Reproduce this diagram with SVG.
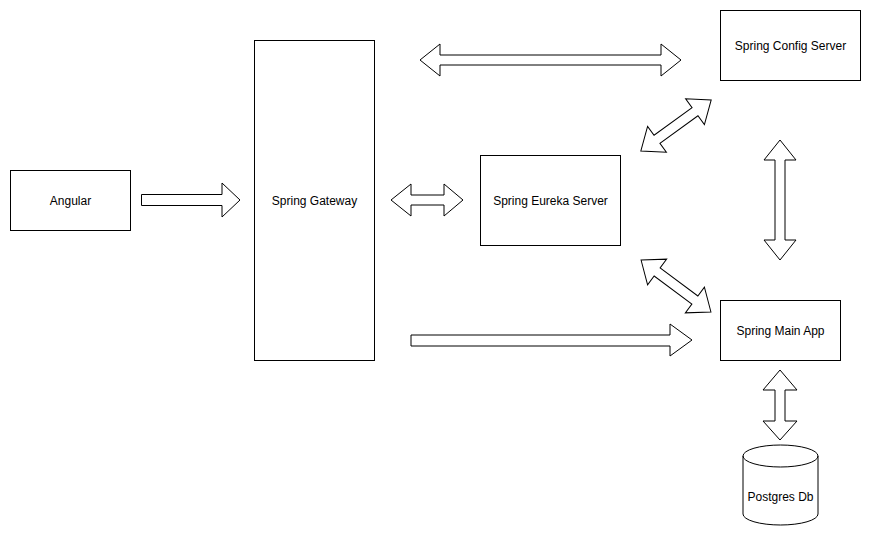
<svg xmlns="http://www.w3.org/2000/svg" width="871" height="536" viewBox="0 0 871 536">
<style>
.box{fill:#fff;stroke:#000;stroke-width:1}
.lbl{font-family:"Liberation Sans",Arial,sans-serif;font-size:12px;fill:#000;text-anchor:middle;dominant-baseline:central}
.arr{fill:#fff;stroke:#000;stroke-width:1;stroke-linejoin:miter}
</style>
<rect width="871" height="536" fill="#fff"/>
<g id="connectors">
<path class="arr" d="M141.5,194.5 L222,194.5 L222,183 L240,200 L222,217 L222,205.5 L141.5,205.5 Z"/>
<path class="arr" d="M420,60 L440,44 L440,55 L661,55 L661,44 L681,60 L661,76 L661,65 L440,65 L440,76 Z"/>
<path class="arr" d="M391,200 L411,184 L411,195 L444,195 L444,184 L463,200 L444,216 L444,205 L411,205 L411,216 Z"/>
<path class="arr" d="M411,335 L670,335 L670,324 L692,340 L670,356 L670,346 L411,346 Z"/>
<path class="arr" d="M780,140 L796,160 L785,160 L785,240 L796,240 L780,260 L764,240 L775,240 L775,160 L764,160 Z"/>
<path class="arr" d="M780,370 L797,390 L785,390 L785,421 L797,421 L780,440 L763,421 L775,421 L775,390 L763,390 Z"/>
<path class="arr" transform="translate(676,125.5) rotate(-36)" d="M-43.5,0 L-23.5,-16 L-23.5,-5 L23.5,-5 L23.5,-16 L43.5,0 L23.5,16 L23.5,5 L-23.5,5 L-23.5,16 Z"/>
<path class="arr" transform="translate(676,286) rotate(36.6)" d="M-43.5,0 L-23.5,-16 L-23.5,-5 L23.5,-5 L23.5,-16 L43.5,0 L23.5,16 L23.5,5 L-23.5,5 L-23.5,16 Z"/>
</g>
<g id="angular"><rect class="box" x="10.5" y="170.5" width="120" height="60"/><text class="lbl" x="70.5" y="200.5">Angular</text></g>
<g id="gateway"><rect class="box" x="254.5" y="40.5" width="120" height="320"/><text class="lbl" x="314.5" y="200.5">Spring Gateway</text></g>
<g id="eureka"><rect class="box" x="480.5" y="155.5" width="140" height="90"/><text class="lbl" x="550.5" y="200.5">Spring Eureka Server</text></g>
<g id="config"><rect class="box" x="720.5" y="10.5" width="140" height="70"/><text class="lbl" x="790.5" y="45.5">Spring Config Server</text></g>
<g id="mainapp"><rect class="box" x="720.5" y="300.5" width="120" height="60"/><text class="lbl" x="780.5" y="330.5">Spring Main App</text></g>
<g id="postgres">
<path class="box" d="M743,456 A37.5,11 0 0 1 818,456 L818,514 A37.5,11 0 0 1 743,514 Z"/>
<path class="box" style="fill:none" d="M743,456 A37.5,11 0 0 0 818,456"/>
<text class="lbl" x="780.5" y="497">Postgres Db</text>
</g>
</svg>
